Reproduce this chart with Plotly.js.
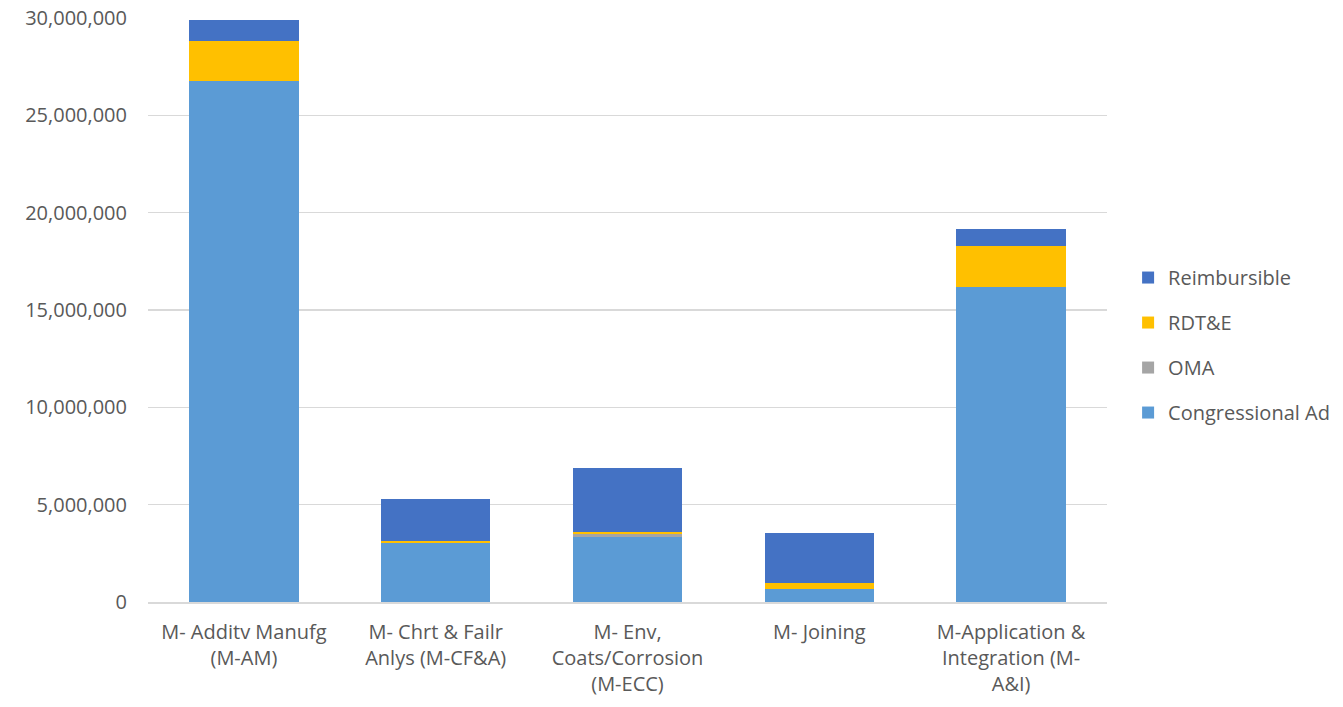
<!DOCTYPE html>
<html>
<head>
<meta charset="utf-8">
<script src="https://cdn.plot.ly/plotly-3.0.1.min.js"></script>
<style>html,body{margin:0;padding:0;background:#fff;}#chart{width:1343px;height:707px;}</style>
</head>
<body>
<div id="chart"></div>
<script>
const categories = [
  "M- Additv Manufg<br>(M-AM)",
  "M- Chrt & Failr<br>Anlys (M-CF&A)",
  "M- Env,<br>Coats/Corrosion<br>(M-ECC)",
  "M- Joining",
  "M-Application &<br>Integration (M-<br>A&I)"
];
const congressionalAd = [26750000, 3040000, 3350000, 670000, 16170000];
const oma = [0, 0, 140000, 0, 0];
const rdte = [2050000, 90000, 100000, 330000, 2110000];
const reimbursible = [1100000, 2150000, 3300000, 2530000, 880000];

const seriesNames = ["Congressional Ad", "OMA", "RDT&E", "Reimbursible"];
const seriesValues = [congressionalAd, oma, rdte, reimbursible];
const seriesColors = ["#5B9BD5", "#A5A5A5", "#FFC000", "#4472C4"];

const traces = seriesNames.map((n, i) => ({
  type: "bar",
  name: n,
  x: categories,
  y: seriesValues[i],
  marker: {color: seriesColors[i], line: {width: 0}},
  legendgroup: "g" + i,
  legendrank: 100 - i,
  hoverinfo: "x+y+name"
}));

const fam = "'Open Sans', 'Liberation Sans', Arial, sans-serif";
const font = {family: fam, size: 20, color: "#595959"};

const layout = {
  width: 1343, height: 707,
  margin: {l: 148, r: 236, t: 18, b: 105, autoexpand: false},
  barmode: "stack",
  bargap: 0.43,
  font: font,
  paper_bgcolor: "#fff",
  plot_bgcolor: "#fff",
  showlegend: true,
  legend: {
    x: 1.022, xanchor: "left", y: 0.44, yanchor: "middle",
    traceorder: "grouped",
    tracegroupgap: 16,
    font: {family: fam, size: 20, color: "#595959"},
    itemwidth: 30
  },
  xaxis: {
    tickfont: {family: fam, size: 20, color: "#595959"},
    showline: true, linecolor: "#d9d9d9", linewidth: 1.5,
    ticks: "", showgrid: false,
    ticklabelstandoff: 11
  },
  yaxis: {
    range: [0, 30000000],
    dtick: 5000000,
    tickformat: ",d",
    tickfont: {family: fam, size: 20, color: "#595959"},
    gridcolor: "#d9d9d9", gridwidth: 1.5,
    zeroline: false, showline: false, ticks: "",
    ticklabelstandoff: 20
  }
};

Plotly.newPlot("chart", traces, layout, {displayModeBar: false, staticPlot: true});
</script>
</body>
</html>
